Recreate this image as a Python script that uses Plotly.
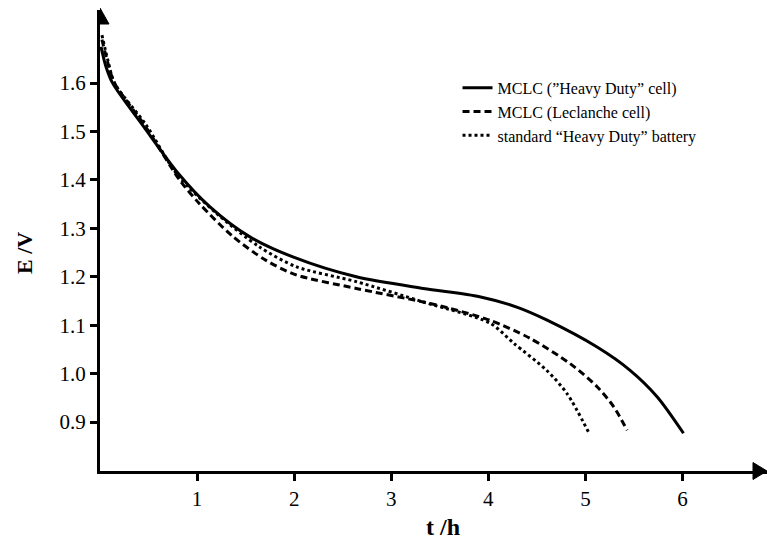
import plotly.graph_objects as go

# Discharge curves (t in hours, E in volts)
t_solid = [0.01, 0.06, 0.13, 0.45, 0.80, 1.13, 1.54, 2.00, 2.64, 3.33, 3.91, 4.30, 4.60, 5.12, 5.46, 5.74, 6.01]
E_solid = [1.675, 1.635, 1.600, 1.510, 1.415, 1.345, 1.283, 1.240, 1.200, 1.176, 1.159, 1.137, 1.111, 1.055, 1.007, 0.952, 0.877]

t_dash = [0.02, 0.08, 0.15, 0.47, 0.82, 1.02, 1.37, 1.71, 2.02, 2.64, 3.33, 3.60, 4.02, 4.43, 4.84, 5.12, 5.29, 5.43]
E_dash = [1.690, 1.642, 1.600, 1.510, 1.400, 1.352, 1.283, 1.234, 1.204, 1.176, 1.148, 1.135, 1.110, 1.073, 1.021, 0.973, 0.932, 0.883]

t_dot = [0.02, 0.08, 0.15, 0.47, 0.80, 1.20, 1.64, 2.02, 2.64, 3.33, 4.02, 4.26, 4.60, 4.81, 5.03]
E_dot = [1.699, 1.648, 1.600, 1.515, 1.410, 1.331, 1.262, 1.221, 1.190, 1.148, 1.104, 1.063, 1.007, 0.959, 0.880]

names = ["MCLC (\u201dHeavy Duty\u201d cell)", "MCLC (Leclanche cell)", "standard \u201cHeavy Duty\u201d battery"]

x_ticks = [1, 2, 3, 4, 5, 6]
y_ticks = [0.9, 1.0, 1.1, 1.2, 1.3, 1.4, 1.5, 1.6]
y_ticktext = ["0.9", "1.0", "1.1", "1.2", "1.3", "1.4", "1.5", "1.6"]

FONT = "Liberation Serif"

fig = go.Figure()
fig.add_trace(go.Scatter(x=t_solid, y=E_solid, mode="lines", name=names[0],
                         line=dict(color="black", width=3, shape="spline", smoothing=0.8)))
fig.add_trace(go.Scatter(x=t_dash, y=E_dash, mode="lines", name=names[1],
                         line=dict(color="black", width=3, dash="7px,4px", shape="spline", smoothing=0.8)))
fig.add_trace(go.Scatter(x=t_dot, y=E_dot, mode="lines", name=names[2],
                         line=dict(color="black", width=3, dash="3px,3px", shape="spline", smoothing=0.8)))

axis_common = dict(showline=True, linewidth=3, linecolor="black", ticks="outside",
                   ticklen=7, tickwidth=3, tickcolor="black", showgrid=False, zeroline=False,
                   tickfont=dict(family=FONT, size=21, color="black"))

fig.update_layout(
    width=767, height=539,
    margin=dict(l=100, r=0, t=10, b=68),
    paper_bgcolor="white", plot_bgcolor="white",
    font=dict(family=FONT, color="black"),
    xaxis=dict(range=[0, 6.87], tickvals=x_ticks, **axis_common),
    yaxis=dict(range=[0.799, 1.751], tickvals=y_ticks, ticktext=y_ticktext, **axis_common),
    showlegend=True,
    legend=dict(x=0.536, y=0.868, xanchor="left", yanchor="top",
                bgcolor="rgba(0,0,0,0)", font=dict(family=FONT, size=16, color="black")),
    annotations=[
        dict(text="<b>E /V</b>", xref="paper", yref="paper", x=-0.1124, y=0.473,
             xanchor="center", yanchor="middle",
             showarrow=False, textangle=-90, font=dict(family=FONT, size=22, color="black")),
        dict(text="<b>t /h</b>", xref="paper", yref="paper", x=0.514, y=-0.1215,
             xanchor="center", yanchor="middle",
             showarrow=False, font=dict(family=FONT, size=24, color="black")),
    ],
    shapes=[
        dict(type="path", xref="x", yref="paper", xsizemode="pixel", ysizemode="pixel",
             xanchor=0, yanchor=1, path="M-9,-14 L9,-14 L0,2 Z",
             fillcolor="black", line=dict(color="black", width=1)),
        dict(type="path", xref="paper", yref="paper", xsizemode="pixel", ysizemode="pixel",
             xanchor=1, yanchor=0, path="M-14,-8.5 L-14,8.5 L0,0 Z",
             fillcolor="black", line=dict(color="black", width=1)),
    ],
)

fig.write_html("out.html", config={"displayModeBar": False},
               post_script="document.body.style.margin='0px';document.body.style.overflow='hidden';")
